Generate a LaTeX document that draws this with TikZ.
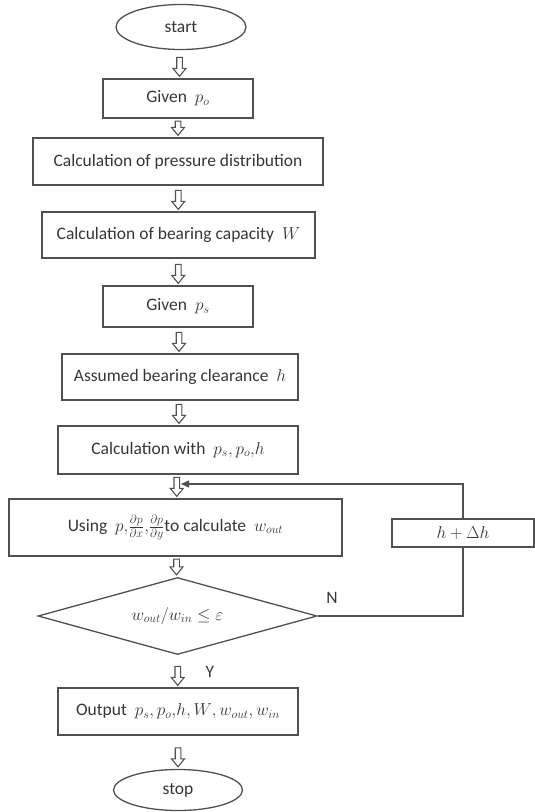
\documentclass[tikz,border=0pt]{standalone}
\usepackage{fontspec}
\setmainfont{Carlito}
\usetikzlibrary{arrows.meta,shapes.geometric,calc}
\definecolor{FlowLine}{HTML}{505050}
\definecolor{FlowText}{HTML}{363636}

\begin{document}
\begin{tikzpicture}[x=1pt,y=-1pt,font=\fontsize{17.5}{20}\selectfont,text=FlowText,
  box/.style={draw=FlowLine,line width=1.3pt,rectangle,inner sep=0pt},
  term/.style={draw=FlowLine,line width=1.3pt,ellipse,inner sep=0pt},
  decision/.style={draw=FlowLine,line width=1.3pt,diamond,aspect=3.6,inner sep=0pt},
  flow/.style={draw=FlowLine,line width=1.1pt,to path={let \p1=(\tikztostart),\p2=(\tikztotarget),\p3=($(\p1)!0.5!(\p2)$),\n1={min(\y1-2.5pt,\y2+21pt)} in
    (\x3-2.8pt,\n1*1pt) -- (\x3-2.8pt,\y2+10pt) -- (\x3-6.5pt,\y2+10pt) -- (\x3,\y2+2pt)
    -- (\x3+6.5pt,\y2+10pt) -- (\x3+2.8pt,\y2+10pt) -- (\x3+2.8pt,\n1*1pt) -- cycle}},
  back/.style={draw=FlowLine,line width=1.3pt}]
  \useasboundingbox (0,0) rectangle (535,812);
  \node[term,minimum width=130,minimum height=45] (start) at (181,27) {start};
  \node[box,minimum width=150,minimum height=39] (givenpo) at (178,98.5) {Given~ $p_o$};
  \node[box,minimum width=290,minimum height=47] (pressure) at (178,161.5) {Calculation of pressure distribution};
  \node[box,minimum width=273,minimum height=46] (capacity) at (178.5,235) {Calculation of bearing capacity~ $W$};
  \node[box,minimum width=150,minimum height=41] (givenps) at (178,306.5) {Given~ $p_s$};
  \node[box,minimum width=236,minimum height=46] (assumed) at (180,377) {Assumed bearing clearance~ $h$};
  \node[box,minimum width=240,minimum height=48] (calcwith) at (178,450) {Calculation with~ $p_s{,}\,p_o{,}h$};
  \node[box,minimum width=333,minimum height=57] (using) at (175.5,527.5) {Using~ $p{,}\frac{\partial p}{\partial x}{,}\frac{\partial p}{\partial y}$to calculate~ $w_{out}$};
  \node[decision,minimum width=279,minimum height=77] (check) at (177.5,616) {$w_{out}/w_{in}\le\varepsilon$};
  \node[box,minimum width=240,minimum height=47] (output) at (178,711.5) {Output~ $p_s{,}\,p_o{,}h{,}\,W{,}\,w_{out}{,}\,w_{in}$};
  \node[term,minimum width=129,minimum height=41] (stop) at (178,790) {stop};
  \node[box,minimum width=142,minimum height=28] (hdh) at (463,533) {$h+\Delta h$};
  \node (nlabel) at (332,598) {N};
  \node (ylabel) at (210,672) {Y};
  \coordinate (join) at (181,484);
  \draw[flow] (start.south) to (givenpo.north);
  \draw[flow] (givenpo.south) to (pressure.north);
  \draw[flow] (pressure.south) to (capacity.north);
  \draw[flow] (capacity.south) to (givenps.north);
  \draw[flow] (givenps.south) to (assumed.north);
  \draw[flow] (assumed.south) to (calcwith.north);
  \draw[flow] (calcwith.south) to (using.north);
  \draw[flow] (using.south) to (check.north);
  \draw[flow] (check.south) to (output.north);
  \draw[flow] (output.south) to (stop.north);
  \draw[back] (check.east) -| (hdh.south);
  \draw[back,-{Triangle[length=8pt,width=7pt]}] (hdh.north) |- (join);
\end{tikzpicture}
\end{document}
